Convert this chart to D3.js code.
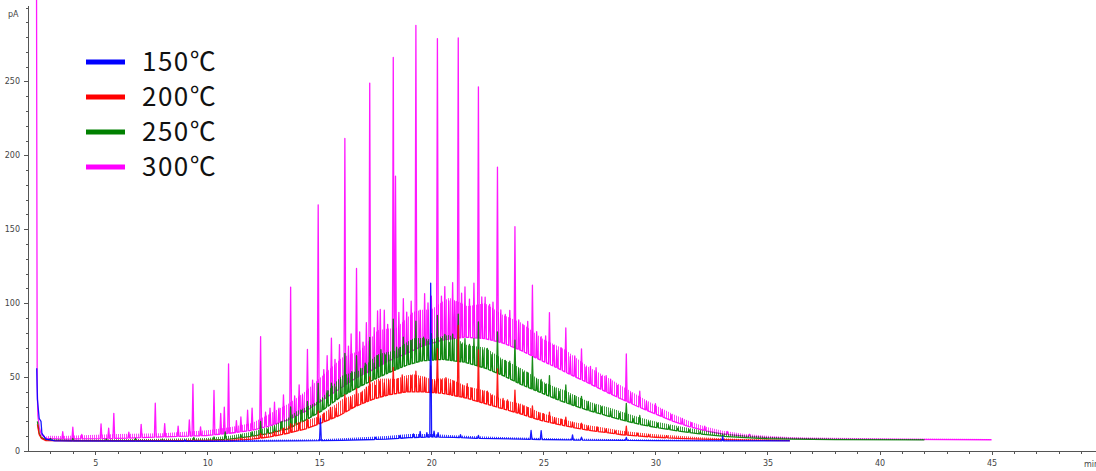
<!DOCTYPE html>
<html>
  <head>
    <meta charset="utf-8" />
    <title>Chromatogram overlay</title>
    <script src="https://d3js.org/d3.v7.min.js"></script>
    <style>
      body {
        margin: 0;
        background: #fff;
      }
      .axis path,
      .axis line {
        stroke: #555;
        shape-rendering: crispEdges;
      }
      .axis text {
        font: 8px "DejaVu Sans", sans-serif;
        fill: #444;
      }
      .trace {
        fill: none;
        stroke-width: 1.3px;
        stroke-linejoin: round;
      }
      .legend text {
        font-family: "Noto Sans CJK KR", "Noto Sans", sans-serif;
        font-size: 26px;
        letter-spacing: 1.5px;
        fill: #111;
      }
    </style>
  </head>
  <body>
    <svg id="chart"></svg>
    <script>
      const width = 1096,
        height = 471;

      // legend / series
      const seriesNames = ["150℃", "200℃", "250℃", "300℃"];
      const seriesColors = ["#0000ff", "#ff0000", "#008000", "#ff00ff"];

      // axis ticks
      const xMajorTicks = [5, 10, 15, 20, 25, 30, 35, 40, 45];
      const yMajorTicks = [0, 50, 100, 150, 200, 250];

      // baselines [min, pA] (lower edge of each trace)
      const base150 = [[2.39, 56], [2.42, 35], [2.5, 22], [2.58, 20], [2.62, 12], [2.8, 8], [3.2, 6.8], [10, 6.5], [14, 6.8], [16, 7.2], [18, 8], [19, 9], [20, 9.5], [21, 9.2], [22, 8.6], [24, 8], [26, 7.5], [30, 7], [36, 6.8]];
      const base200 = [[2.42, 18], [2.5, 11], [2.6, 8.5], [2.8, 7], [4, 6.8], [10, 6.8], [11, 7], [12, 8], [12.8, 9.5], [13.6, 12], [14.4, 15], [15.1, 19], [15.9, 24], [16.6, 30], [17.4, 35], [18.1, 38], [18.9, 40], [19.6, 40], [20.5, 39], [21.5, 36], [22.4, 32], [23.2, 28.5], [24, 25], [24.8, 21], [25.5, 18.5], [26.3, 16], [27, 14], [27.8, 12.5], [28.5, 11], [29.3, 10], [30, 9.3], [31, 8.6], [32, 8], [34, 7.3], [36, 7]];
      const base250 = [[2.42, 20], [2.5, 12], [2.6, 9], [2.8, 7.5], [4, 7], [8, 7], [10, 7.3], [11, 8], [12, 10], [12.8, 12], [13.6, 15], [14.4, 21], [15.1, 27], [15.9, 36], [16.6, 42], [17.4, 48], [18.1, 53], [18.9, 58], [19.6, 61], [20.5, 62], [21.5, 60], [22.4, 56], [23.2, 51], [24, 45], [24.8, 40], [25.5, 35.5], [26.3, 31], [27, 27.5], [27.8, 24], [28.5, 21], [29.3, 18], [30, 16], [31, 13.5], [32, 11.5], [33, 10], [34, 9], [35, 8.3], [36, 8], [38, 7.7], [42, 7.5]];
      const base300 = [[2.38, 320], [2.41, 45], [2.44, 24], [2.5, 16], [2.6, 11], [2.8, 8.5], [3.5, 8], [6, 8.5], [8, 9.5], [10, 10.5], [11, 12], [12, 14], [12.8, 17], [13.6, 21], [14.4, 27], [15.1, 34], [15.9, 42], [16.6, 49], [17.4, 55], [18.1, 61], [18.9, 66], [19.6, 71], [20.5, 75], [21.5, 77], [22.4, 76], [23.2, 73], [24, 68], [24.8, 62], [25.5, 57], [26.3, 51], [27, 46], [27.8, 40], [28.5, 35], [29.3, 29.5], [30, 25], [30.8, 20], [31.5, 16.5], [32.3, 13.5], [33, 11.5], [34, 10], [35, 9], [36, 8.5], [38, 8], [41, 7.8], [45, 7.6]];

      // thickness of the noisy band above each baseline [min, pA]
      const band150 = [[3, 0.5], [15, 1], [19, 2.5], [20, 2], [21, 1.5], [25, 1], [36, 0.5]];
      const band200 = [[3, 0.5], [11, 1], [12, 2], [13, 3], [14, 6], [15, 5], [16, 10], [16.8, 8], [17.6, 13], [18.4, 10], [19.2, 12], [20, 9], [20.8, 11], [21.6, 8], [22.4, 9], [23.2, 6], [24, 7], [25, 5], [26, 4], [28, 3], [30, 2], [33, 1], [36, 0.5]];
      const band250 = [[3, 0.5], [10, 1.5], [12, 3], [13, 5], [14, 9], [15, 8], [16, 14], [16.8, 11], [17.6, 16], [18.4, 13], [19.2, 17], [20, 14], [20.8, 17], [21.6, 12], [22.4, 14], [23.2, 11], [24, 11], [25, 8], [26, 8], [27, 6], [28, 6], [30, 4], [33, 2], [36, 1], [42, 0.5]];
      const band300 = [[2.6, 0.5], [3, 2], [6, 3], [8, 2.5], [11, 4], [12, 5], [13, 9], [14, 12], [15, 16], [16, 20], [16.8, 17], [17.6, 25], [18.4, 20], [19.2, 26], [20, 23], [20.8, 28], [21.6, 21], [22.4, 24], [23.2, 19], [24, 19], [25, 15], [26, 15], [27, 11], [28, 10], [29, 8], [30, 6], [32, 3], [34, 1.5], [36, 1], [45, 0.5]];

      // peaks [min, height above baseline in pA]
      const peaks150 = [[9.0, 1], [15.05, 15], [17.5, 1.5], [18.6, 2], [19.2, 2.5], [19.5, 4], [19.8, 3], [19.97, 104], [20.12, 4], [20.3, 3], [21.3, 2], [22.1, 2], [24.45, 6], [24.9, 6], [26.3, 3.5], [26.7, 2], [28.7, 2], [33.0, 3]];
      const peaks200 = [[11.5, 1], [12.38, 3], [13, 3], [13.4, 4], [13.72, 6], [14.1, 5], [14.47, 6], [14.95, 9], [15.2, 6], [15.5, 8], [15.75, 6], [16.14, 12], [16.4, 8], [16.66, 12], [16.9, 8], [17.1, 10], [17.25, 16], [17.5, 9], [17.7, 11], [17.9, 9], [18.1, 10], [18.3, 18], [18.5, 10], [18.7, 12], [18.9, 9], [19.1, 11], [19.31, 14], [19.5, 9], [19.7, 10], [19.97, 18], [20.15, 8], [20.27, 30], [20.45, 9], [20.65, 11], [20.85, 8], [21.0, 10], [21.2, 48], [21.4, 8], [21.6, 10], [21.8, 8], [22.1, 35], [22.3, 8], [22.5, 9], [22.7, 7], [22.95, 26], [23.2, 7], [23.4, 7], [23.73, 15], [23.9, 6], [24.1, 6], [24.3, 6], [24.51, 8], [24.8, 5], [25.0, 5], [25.27, 7], [25.5, 4], [25.8, 4], [26.0, 6], [26.3, 3.5], [26.7, 4], [27.0, 3], [27.4, 3], [27.8, 2.5], [28.2, 2], [28.7, 6], [29.2, 2], [29.7, 1.5], [30.5, 1.5]];
      const peaks250 = [[3, 1], [4, 1.5], [5.5, 1], [6.8, 1.5], [8, 1], [9.4, 2], [10.3, 2], [10.8, 5], [11.5, 2], [12.0, 3], [12.38, 9], [12.7, 3], [13.0, 4], [13.3, 6], [13.72, 14], [13.95, 6], [14.2, 8], [14.47, 12], [14.7, 7], [14.95, 20], [15.15, 8], [15.35, 11], [15.54, 14], [15.75, 9], [15.95, 12], [16.14, 28], [16.3, 10], [16.45, 13], [16.66, 22], [16.85, 12], [17.05, 14], [17.25, 30], [17.45, 11], [17.6, 15], [17.75, 18], [17.95, 13], [18.1, 12], [18.3, 35], [18.45, 15], [18.6, 14], [18.75, 20], [18.95, 13], [19.1, 16], [19.31, 28], [19.5, 12], [19.65, 16], [19.85, 13], [20.0, 18], [20.15, 12], [20.27, 30], [20.45, 14], [20.6, 17], [20.8, 12], [20.95, 18], [21.2, 32], [21.35, 12], [21.5, 16], [21.7, 13], [21.9, 18], [22.1, 30], [22.3, 12], [22.5, 14], [22.7, 11], [22.95, 28], [23.1, 10], [23.3, 11], [23.5, 12], [23.73, 28], [23.9, 10], [24.1, 9], [24.3, 10], [24.51, 22], [24.7, 8], [24.9, 9], [25.1, 7], [25.27, 14], [25.5, 7], [25.7, 6], [26.0, 12], [26.2, 6], [26.4, 7], [26.7, 8], [27.0, 6], [27.3, 5], [27.6, 5], [28.0, 4], [28.4, 4], [28.7, 12], [29.0, 3], [29.3, 6], [29.7, 3], [30.1, 3], [30.6, 2.5], [31.0, 2], [31.5, 2], [32.0, 1.5], [33, 1]];
      const peaks300 = [[3.55, 5], [4.0, 8], [4.4, 3], [5.26, 10], [5.6, 7], [5.83, 17], [6.5, 4], [7.05, 9], [7.68, 23], [8.1, 9], [8.7, 7], [9.2, 11], [9.36, 35], [9.7, 6], [10.3, 30], [10.6, 14], [10.76, 18], [10.95, 47], [11.3, 8], [11.5, 10], [11.8, 14], [12.0, 15], [12.38, 62], [12.6, 10], [12.8, 12], [13.0, 15], [13.2, 10], [13.4, 18], [13.72, 89], [13.9, 14], [14.1, 20], [14.25, 12], [14.47, 41], [14.7, 18], [14.95, 134], [15.2, 20], [15.35, 28], [15.54, 38], [15.7, 22], [15.9, 30], [16.14, 167], [16.3, 25], [16.42, 32], [16.66, 74], [16.8, 30], [16.95, 22], [17.1, 34], [17.25, 195], [17.45, 28], [17.6, 38], [17.72, 38], [17.9, 36], [18.05, 25], [18.3, 204], [18.4, 123], [18.55, 30], [18.75, 38], [18.9, 28], [19.1, 34], [19.31, 219], [19.5, 25], [19.7, 35], [19.85, 28], [20.0, 32], [20.27, 205], [20.45, 30], [20.6, 36], [20.78, 26], [20.95, 38], [21.05, 25], [21.2, 203], [21.35, 30], [21.5, 34], [21.7, 26], [21.9, 37], [22.1, 170], [22.25, 28], [22.4, 28], [22.6, 24], [22.75, 26], [22.95, 118], [23.1, 22], [23.3, 20], [23.5, 24], [23.73, 82], [23.9, 20], [24.1, 18], [24.3, 22], [24.51, 48], [24.7, 18], [24.9, 16], [25.1, 18], [25.27, 35], [25.45, 14], [25.6, 12], [25.8, 15], [26.0, 30], [26.2, 12], [26.4, 14], [26.7, 21], [26.9, 10], [27.1, 12], [27.35, 13], [27.6, 9], [27.8, 11], [28.0, 10], [28.3, 8], [28.7, 32], [28.9, 7], [29.3, 11], [29.6, 6], [30.0, 7], [30.3, 5], [30.7, 4], [31.2, 4], [31.6, 3], [32.2, 3], [33.2, 2], [34.2, 1.5]];

      const svg = d3
        .select("#chart")
        .attr("width", width)
        .attr("height", height);

      const x = d3.scaleLinear().domain([2, 49.66]).range([28, 1096]);
      const y = d3.scaleLinear().domain([0, 301.7]).range([451, 5]);

      // value of a read-off table at time t (linear between read points)
      function valueAt(table, t) {
        const i = d3.bisector((d) => d[0]).left(table, t);
        if (i <= 0) return table[0][1];
        if (i >= table.length) return table[table.length - 1][1];
        const a = table[i - 1],
          b = table[i];
        return a[1] + ((b[1] - a[1]) * (t - a[0])) / (b[0] - a[0]);
      }

      const w = 0.04; // half width of a peak, in minutes
      function tracePoints(base, peaks) {
        const pts = base.filter(
          (p) => !peaks.some((k) => Math.abs(p[0] - k[0]) <= w)
        );
        peaks.forEach((k) => {
          pts.push([k[0] - w, valueAt(base, k[0] - w)]);
          pts.push([k[0], valueAt(base, k[0]) + k[1]]);
          pts.push([k[0] + w, valueAt(base, k[0] + w)]);
        });
        return pts.sort((a, b) => a[0] - b[0]);
      }

      const line = d3
        .line()
        .x((d) => x(d[0]))
        .y((d) => y(d[1]));

      // hatch patterns standing in for the dense detector noise
      const defs = svg.append("defs");
      seriesColors.forEach((c, i) => {
        defs
          .append("pattern")
          .attr("id", "hatch" + i)
          .attr("patternUnits", "userSpaceOnUse")
          .attr("width", 2)
          .attr("height", 4)
          .append("rect")
          .attr("width", 1)
          .attr("height", 4)
          .style("fill", c);
      });

      // axes
      svg
        .append("g")
        .attr("class", "axis")
        .attr("transform", "translate(0," + y(0) + ")")
        .call(
          d3.axisBottom(x).tickValues(d3.range(3, 50)).tickSize(3).tickSizeOuter(0).tickFormat("")
        );
      svg
        .append("g")
        .attr("class", "axis")
        .attr("transform", "translate(0," + y(0) + ")")
        .call(d3.axisBottom(x).tickValues(xMajorTicks).tickSize(4).tickPadding(5).tickSizeOuter(0))
        .select(".domain")
        .remove();

      svg
        .append("g")
        .attr("class", "axis")
        .attr("transform", "translate(" + x(2) + ",0)")
        .call(
          d3.axisLeft(y).tickValues(d3.range(0, 301, 10)).tickSize(2).tickSizeOuter(0).tickFormat("")
        );
      svg
        .append("g")
        .attr("class", "axis")
        .attr("transform", "translate(" + x(2) + ",0)")
        .call(d3.axisLeft(y).tickValues(yMajorTicks).tickSize(4).tickPadding(4).tickSizeOuter(0))
        .select(".domain")
        .remove();

      svg
        .append("text")
        .attr("x", 8)
        .attr("y", 17)
        .style("font", "8px 'DejaVu Sans', sans-serif")
        .style("fill", "#444")
        .text("pA");
      svg
        .append("text")
        .attr("x", 1084)
        .attr("y", 467)
        .style("font", "8px 'DejaVu Sans', sans-serif")
        .style("fill", "#444")
        .text("min");

      // traces: 300 at the back, 150 on top
      const traces = [
        { base: base300, band: band300, peaks: peaks300, ci: 3 },
        { base: base250, band: band250, peaks: peaks250, ci: 2 },
        { base: base200, band: band200, peaks: peaks200, ci: 1 },
        { base: base150, band: band150, peaks: peaks150, ci: 0 },
      ];

      const bandArea = d3
        .area()
        .x((d) => x(d[0]))
        .y0((d) => y(d[1]))
        .y1((d) => y(d[1] + d[2]));

      const g = svg
        .selectAll("g.series")
        .data(traces)
        .enter()
        .append("g")
        .attr("class", "series");

      g.append("path")
        .attr("d", (d) => {
          const t0 = Math.max(d.base[0][0], 2.6);
          const ts = d3
            .merge([d.base.map((p) => p[0]), d.band.map((p) => p[0])])
            .filter((t) => t >= t0 && t <= d.base[d.base.length - 1][0])
            .sort((a, b) => a - b);
          return bandArea(ts.map((t) => [t, valueAt(d.base, t), valueAt(d.band, t)]));
        })
        .style("fill", (d) => "url(#hatch" + d.ci + ")")
        .style("opacity", 0.75);

      g.append("path")
        .attr("class", "trace")
        .attr("d", (d) => line(tracePoints(d.base, d.peaks)))
        .style("stroke", (d) => seriesColors[d.ci])
        .style("stroke-opacity", 0.9);

      // legend
      const legend = svg
        .append("g")
        .attr("class", "legend")
        .selectAll("g")
        .data(seriesNames)
        .enter()
        .append("g")
        .attr("transform", (d, i) => "translate(86," + (62 + i * 35) + ")");

      legend
        .append("line")
        .attr("x1", 0)
        .attr("x2", 39)
        .style("stroke", (d, i) => seriesColors[i])
        .style("stroke-width", 5);

      legend
        .append("text")
        .attr("x", 56)
        .attr("dy", "0.36em")
        .text((d) => d);
    </script>
  </body>
</html>
